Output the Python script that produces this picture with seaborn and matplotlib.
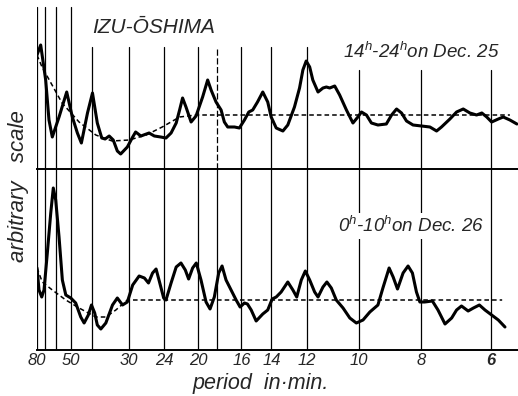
import numpy as np
import matplotlib
matplotlib.use("Agg")
import matplotlib.pyplot as plt
import seaborn as sns

# period scale of the figure (min) and where each grid line sits along the axis
grid_periods = [80, 70, 60, 50, 40, 30, 24, 20, 18, 16, 14, 12, 10, 8, 6]
grid_pos = [0, 8, 19, 34, 55, 92, 127, 161, 180, 204, 234, 269, 321, 383, 453]
label_periods = [80, 50, 30, 24, 20, 16, 14, 12, 10, 8, 6]

# 14h-24h on Dec. 25
dec25_period = [80, 75.4, 69.4, 66.4, 63.4, 58.0, 52.9, 49.4, 47.0, 45.1,
                42.2, 39.9, 38.6, 37.4, 36.5, 35.4, 34.3, 33.2, 32.3, 30.5,
                29.4, 28.9, 28.0, 27.3, 26.6, 25.7, 24.6, 23.8, 23.2, 22.6,
                22.2, 21.85, 21.45, 20.85, 20.27, 19.55, 19.02, 18.66, 18.14, 17.69,
                17.42, 17.14, 16.58, 16.17, 15.8, 15.51, 15.25, 14.93, 14.58, 14.25,
                14.02, 13.73, 13.35, 13.07, 12.69, 12.40, 12.21, 12.02, 11.88, 11.76,
                11.56, 11.37, 11.24, 11.11, 10.92, 10.73, 10.47, 10.22, 10.03, 9.91,
                9.75, 9.59, 9.38, 9.11, 8.94, 8.78, 8.62, 8.46, 8.25, 7.98,
                7.74, 7.55, 7.41, 7.17, 6.98, 6.79, 6.60, 6.41, 6.26, 6.12,
                5.98, 5.79, 5.65, 5.46, 5.26]
dec25_power = [11.4, 12.4, 8.9, 4.9, 3.2, 5.2, 7.7, 5.2, 3.6, 2.6,
               5.6, 7.6, 4.6, 3.1, 3.0, 3.3, 2.9, 1.8, 1.5, 2.2,
               3.2, 3.7, 3.3, 3.45, 3.6, 3.3, 3.2, 3.1, 3.6, 4.6,
               5.9, 7.1, 6.2, 4.7, 5.3, 7.2, 8.9, 7.9, 6.7, 5.9,
               4.7, 4.2, 4.2, 4.1, 4.9, 5.7, 5.9, 6.7, 7.7, 6.7,
               5.2, 4.1, 3.8, 4.4, 6.2, 8.1, 9.9, 10.8, 10.2, 8.9,
               7.7, 8.1, 8.2, 8.1, 8.3, 7.4, 5.9, 4.6, 5.2, 5.7,
               5.4, 4.6, 4.4, 4.5, 5.4, 6.0, 5.6, 4.8, 4.4, 4.3,
               4.2, 3.8, 4.2, 5.0, 5.7, 6.0, 5.6, 5.4, 5.6, 5.2,
               4.7, 5.0, 5.2, 4.9, 4.5]
dec25_trend_period = [80, 73.75, 63.6, 56.0, 46.2, 39.0, 34.6, 30.0, 27.1, 24.35, 22.2, 20.27, 5.46]
dec25_trend_power = [11.4, 10.2, 8.4, 6.6, 4.7, 3.4, 2.8, 2.9, 3.4, 4.2, 5.2, 5.4, 5.4]

# 0h-10h on Dec. 26
dec26_period = [80, 77.5, 74.1, 71.25, 67.9, 64.8, 62.5, 60.3, 58.0, 55.8,
                53.5, 50.2, 47.8, 45.4, 43.8, 41.8, 40.3, 39.3, 38.6, 37.65,
                36.3, 34.5, 33.2, 31.8, 30.5, 29.4, 28.3, 27.4, 26.7, 26.0,
                25.4, 24.9, 24.1, 23.8, 23.2, 22.6, 22.04, 21.53, 21.14, 20.67,
                20.24, 19.72, 19.19, 18.77, 18.32, 17.89, 17.61, 17.28, 16.86, 16.44,
                16.11, 15.8, 15.6, 15.35, 15.02, 14.58, 14.25, 13.96, 13.73, 13.45,
                13.07, 12.78, 12.56, 12.30, 12.07, 11.88, 11.69, 11.56, 11.37, 11.22,
                11.05, 10.86, 10.60, 10.34, 10.09, 9.86, 9.64, 9.38, 9.22, 9.02,
                8.89, 8.75, 8.57, 8.41, 8.27, 8.14, 8.03, 7.89, 7.67, 7.51,
                7.31, 7.12, 6.98, 6.84, 6.65, 6.50, 6.33, 6.17, 5.98, 5.79,
                5.60]
dec26_power = [8.2, 6.0, 5.3, 6.0, 9.7, 13.7, 16.2, 15.0, 11.3, 7.0,
               5.5, 5.2, 4.7, 3.3, 2.7, 3.5, 4.5, 3.7, 2.5, 2.1,
               2.7, 4.5, 5.2, 4.5, 4.8, 6.5, 7.4, 7.2, 6.7, 7.7,
               8.1, 7.0, 5.2, 5.0, 6.7, 8.3, 8.7, 8.0, 7.1, 8.2,
               8.7, 7.0, 4.8, 4.1, 5.3, 7.7, 8.4, 7.0, 6.0, 5.0,
               4.3, 4.7, 4.6, 4.0, 2.9, 3.6, 4.0, 5.1, 5.3, 5.8,
               6.8, 6.0, 5.3, 7.0, 7.9, 7.0, 5.8, 5.3, 6.3, 6.8,
               6.2, 5.0, 4.2, 3.2, 2.7, 3.0, 3.8, 4.5, 6.2, 8.2,
               7.3, 6.1, 7.7, 8.4, 7.7, 5.8, 4.8, 4.8, 4.9, 4.0,
               2.6, 3.2, 4.0, 4.4, 3.9, 4.2, 4.5, 4.0, 3.5, 3.0,
               2.3]
dec26_trend_period = [80, 73.4, 63.4, 53.5, 46.2, 39.0, 36.3, 33.6, 30.5, 5.68]
dec26_trend_power = [8.2, 6.8, 6.0, 5.0, 4.2, 3.3, 3.3, 4.0, 5.0, 5.0]

sns.set_style("white")
plt.rcParams["font.family"] = ["Liberation Sans", "DejaVu Sans"]
plt.rcParams["mathtext.fontset"] = "custom"
plt.rcParams["mathtext.rm"] = "Liberation Sans:italic"
plt.rcParams["mathtext.it"] = "Liberation Sans:italic"

# the printed period axis is neither linear nor log: place periods piecewise along it
scale_p = np.array([90] + grid_periods + [5], dtype=float)
scale_x = np.array([-8] + grid_pos + [488], dtype=float)


def axis_pos(p):
    return np.interp(np.asarray(p, dtype=float), scale_p[::-1], scale_x[::-1])


W, H = 518, 396
fig = plt.figure(figsize=(W / 100, H / 100), dpi=100)
ax_top = fig.add_axes([37 / W, (H - 169) / H, 481 / W, 169 / H])
ax_bot = fig.add_axes([37 / W, (H - 350) / H, 481 / W, 181 / H])

curve_kw = dict(color="black", lw=2.2, estimator=None, sort=False, legend=False)
trend_kw = dict(color="black", lw=1.1, ls=(0, (3, 2)), estimator=None, sort=False, legend=False)

panels = [
    (ax_top, dec25_period, dec25_power, dec25_trend_period, dec25_trend_power, 16.9),
    (ax_bot, dec26_period, dec26_power, dec26_trend_period, dec26_trend_power, 18.1),
]
for ax, px, py, tx, ty, ytop in panels:
    sns.lineplot(x=axis_pos(tx), y=ty, ax=ax, **trend_kw)
    sns.lineplot(x=axis_pos(px), y=py, ax=ax, **curve_kw)
    ax.set_xlim(axis_pos(80), 480)
    ax.set_ylim(0, ytop)
    ax.set_yticks([])
    ax.set_xlabel("")
    ax.set_ylabel("")
    for side in ["top", "right", "left"]:
        ax.spines[side].set_visible(False)
    ax.spines["bottom"].set_linewidth(1.4)
    ax.spines["bottom"].set_color("black")
    ax.patch.set_alpha(0)

# grid lines; in the upper panel they stop under the lettering
top_line_tops = [7, 7, 7, 7, 47, 47, 47, 47, 47, 47, 47, 47, 70, 70, 70]
for p, t in zip(grid_periods, top_line_tops):
    ls = (0, (5, 2)) if p == 18 else "-"
    ax_top.axvline(axis_pos(p), ymax=(169 - t) / 169, color="black", lw=0.9, ls=ls, zorder=1)
    ax_bot.axvline(axis_pos(p), color="black", lw=0.9, zorder=1)

ax_top.set_xticks([])
ax_bot.set_xticks(axis_pos(label_periods))
ax_bot.set_xticklabels([str(p) for p in label_periods], fontsize=12, style="italic")
ax_bot.tick_params(axis="x", length=0, pad=2)
for lab in ax_bot.get_xticklabels():
    if lab.get_text() == "6":
        lab.set_fontweight("bold")

fig.text(154 / W, 1 - 27.5 / H, "IZU-ŌSHIMA", ha="center", va="center",
         fontsize=15, style="italic")
fig.text(421 / W, 1 - 58 / H, r"14$^{h}$-24$^{h}$on Dec. 25", ha="center", va="baseline",
         fontsize=13.5, style="italic")
fig.text(411 / W, 1 - 232 / H, r"0$^{h}$-10$^{h}$on Dec. 26", ha="center", va="baseline",
         fontsize=13.5, style="italic",
         bbox=dict(facecolor="white", edgecolor="none", pad=2))
fig.text(19 / W, 1 - 186 / H, "arbitrary   scale", ha="center", va="center", rotation=90,
         fontsize=16, style="italic")
fig.text(261 / W, 1 - 389 / H, "period  in·min.", ha="center", va="baseline",
         fontsize=15.5, style="italic")

fig.savefig("out.png", dpi=100)
